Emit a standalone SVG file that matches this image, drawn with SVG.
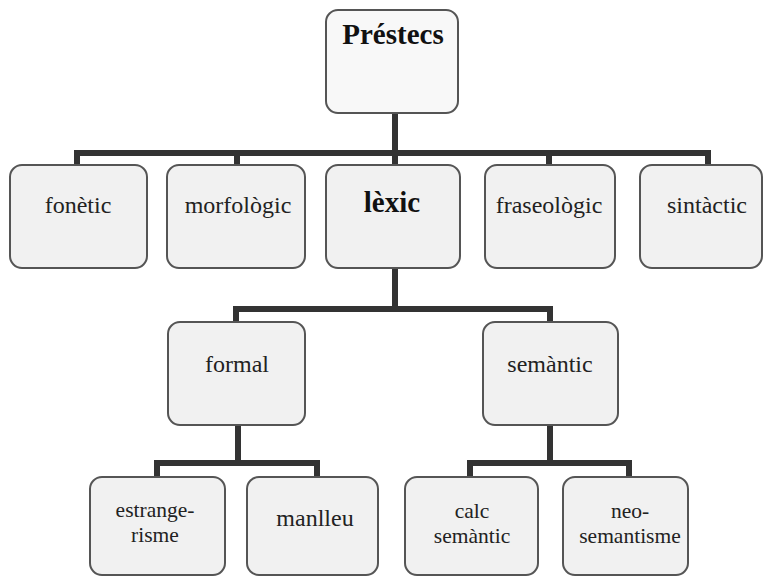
<svg xmlns="http://www.w3.org/2000/svg" width="766" height="577" viewBox="0 0 766 577">
<style>
.box{fill:#f1f1f1;stroke:#555;stroke-width:2}
.top{fill:#f8f8f8}
text{font-family:'Liberation Serif','Times New Roman',serif;font-size:24px;fill:#222;text-anchor:middle}
.b{font-weight:bold;font-size:29px;fill:#111}
.two{font-size:21.5px}
.c{fill:none;stroke:#333;stroke-width:6;stroke-linejoin:miter}
</style>
<rect width="766" height="577" fill="#fff"/>
<g id="connectors">
<path class="c" d="M395 113V165"/>
<path class="c" d="M77 165V153H708V165M237 153V165M549 153V165"/>
<path class="c" d="M395 268V309M236 322V309H550V322"/>
<path class="c" d="M238 425V463M157 477V463H317V477"/>
<path class="c" d="M550 425V463M470 477V463H629V477"/>
</g>
<g id="prestecs"><rect class="box top" x="326" y="10" width="132" height="103" rx="12"/><text class="b" x="393" y="44">Préstecs</text></g>
<g id="fonetic"><rect class="box" x="10" y="165" width="137" height="103" rx="12"/><text x="78" y="213">fonètic</text></g>
<g id="morfologic"><rect class="box" x="167" y="165" width="138" height="103" rx="12"/><text x="238" y="213">morfològic</text></g>
<g id="lexic"><rect class="box" x="326" y="165" width="134" height="103" rx="12"/><text class="b" x="392" y="212">lèxic</text></g>
<g id="fraseologic"><rect class="box" x="485" y="165" width="130" height="103" rx="12"/><text x="549" y="213">fraseològic</text></g>
<g id="sintactic"><rect class="box" x="640" y="165" width="122" height="103" rx="12"/><text x="707" y="213">sintàctic</text></g>
<g id="formal"><rect class="box" x="168" y="322" width="137" height="103" rx="12"/><text x="237" y="372">formal</text></g>
<g id="semantic"><rect class="box" x="483" y="322" width="135" height="103" rx="12"/><text x="550" y="372">semàntic</text></g>
<g id="estrangerisme"><rect class="box" x="90" y="477" width="135" height="98" rx="12"/><text class="two" x="155" y="517">estrange-</text><text class="two" x="155" y="542">risme</text></g>
<g id="manlleu"><rect class="box" x="247" y="477" width="131" height="98" rx="12"/><text x="315" y="526">manlleu</text></g>
<g id="calc"><rect class="box" x="405" y="477" width="133" height="98" rx="12"/><text class="two" x="472" y="518">calc</text><text class="two" x="472" y="543">semàntic</text></g>
<g id="neo"><rect class="box" x="563" y="477" width="125" height="98" rx="12"/><text class="two" x="630" y="518">neo-</text><text class="two" x="630" y="543">semantisme</text></g>
</svg>
